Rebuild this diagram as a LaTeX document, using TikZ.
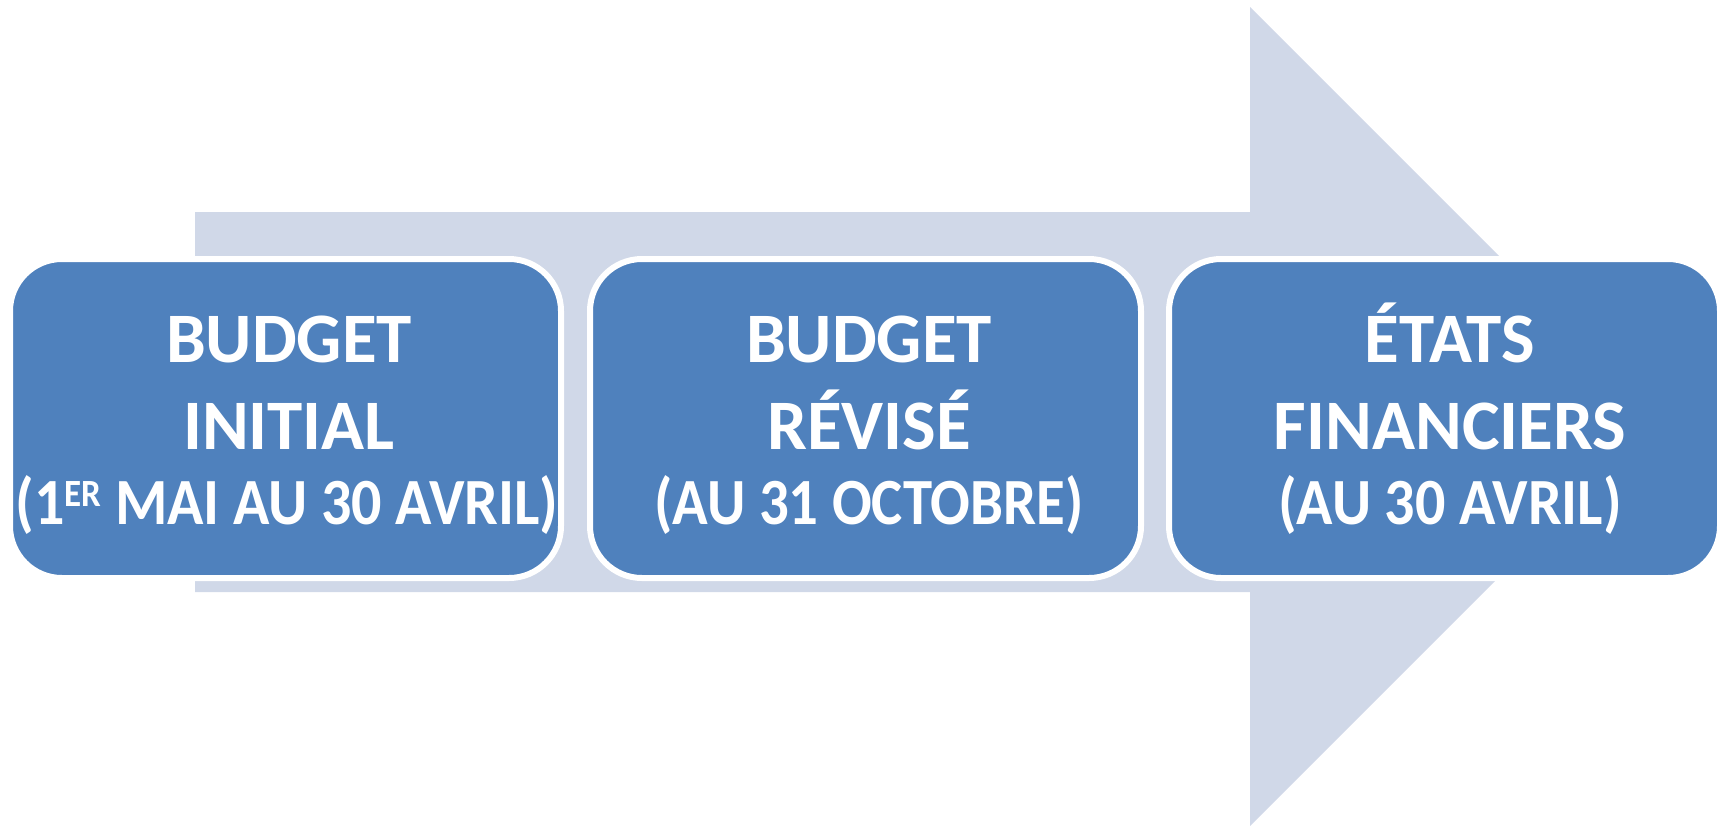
\documentclass[tikz,border=0pt]{standalone}
\usepackage{fontspec}
\setmainfont{Carlito}
\usepackage{graphicx}
\definecolor{boxblue}{HTML}{4F81BD}
\definecolor{arrowgray}{HTML}{D0D8E8}
\tikzset{
  stagebox/.style={rectangle, rounded corners=52pt, fill=boxblue, draw=white, line width=6pt,
    minimum width=551pt, minimum height=319pt, inner sep=0pt, outer sep=0pt},
  bigtxt/.style={text=white, anchor=base, inner sep=0pt, font=\fontsize{71}{80}\selectfont\bfseries},
  smalltxt/.style={text=white, anchor=base, inner sep=0pt, font=\fontsize{60}{68}\selectfont\bfseries}
}
\begin{document}
\begin{tikzpicture}[x=1pt,y=-1pt]
\useasboundingbox (0,0) rectangle (1718,825);
% background arrow
\fill[arrowgray] (195,212) -- (1250,212) -- (1250,7) -- (1659.5,416.5) -- (1250,826) -- (1250,592) -- (195,592) -- cycle;
% boxes
\node[stagebox] (b1) at (285.5,418.5) {};
\node[stagebox] (b2) at (865.5,418.5) {};
\node[stagebox] (b3) at (1444.5,418.5) {};
% texts
\node[bigtxt] (t1a) at (289,362) {BUDGET};
\node[bigtxt] (t1b) at (289,449) {INITIAL};
\node[smalltxt] (t1c) at (287,524) {\scalebox{1}[1.1]{(1\raisebox{16pt}{\fontsize{35}{35}\selectfont ER} MAI AU 30 AVRIL)}};
\node[bigtxt] (t2a) at (869,362) {BUDGET};
\node[bigtxt] (t2b) at (869,449) {RÉVISÉ};
\node[smalltxt] (t2c) at (869,524) {\scalebox{0.98}[1.1]{(AU 31 OCTOBRE)}};
\node[bigtxt] (t3a) at (1450,362) {ÉTATS};
\node[bigtxt] (t3b) at (1450,449) {FINANCIERS};
\node[smalltxt] (t3c) at (1450,524) {\scalebox{1}[1.1]{(AU 30 AVRIL)}};
\end{tikzpicture}
\end{document}
